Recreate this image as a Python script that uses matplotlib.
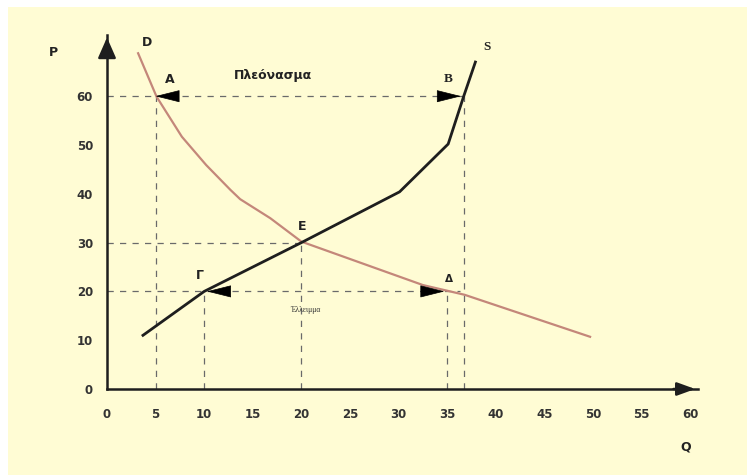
import matplotlib.pyplot as plt
from matplotlib.patches import Rectangle

# demand curve D (brownish) and supply curve S (dark)
demand_q = [3.2, 5.1, 7.7, 10.2, 12.7, 13.7, 16.8, 20, 32.5, 36.8, 49.7]
demand_p = [68.8, 59.9, 51.7, 45.9, 40.8, 38.9, 35, 30.2, 21.3, 19.3, 10.7]
supply_q = [3.7, 10, 20, 30.1, 35.1, 36.7, 37.9]
supply_p = [11, 20, 30, 40.4, 50.2, 60, 67]

# price levels and the matching quantities
p_high, q_a, q_b = 60, 5, 36.7
p_eq, q_eq = 30, 20
p_low, q_g, q_d = 20, 10, 35

ticks_x = list(range(0, 61, 5))
ticks_y = list(range(0, 61, 10))

bg = '#FFFCD4'
ink = '#1e1e1e'
red = '#c4877a'

x_top, y_top = 60.8, 72.6

fig = plt.figure(figsize=(7.47, 4.75), dpi=100)
fig.patch.set_facecolor('white')
fig.patches.append(Rectangle((8 / 747, 0), 1, 1 - 7 / 475, transform=fig.transFigure,
                             facecolor=bg, edgecolor='none', zorder=-10))

ax = fig.add_axes([107 / 747, 86 / 475, x_top * 9.72 / 747, y_top * 4.88 / 475])
ax.set_facecolor('none')
ax.set_xlim(0, x_top)
ax.set_ylim(0, y_top)

for s in ['top', 'right']:
    ax.spines[s].set_visible(False)
for s in ['left', 'bottom']:
    ax.spines[s].set_color(ink)
    ax.spines[s].set_linewidth(1.8)

ax.set_xticks(ticks_x)
ax.set_yticks(ticks_y)
ax.tick_params(length=0, pad=14, labelsize=8.5, colors='#333333')
ax.tick_params(axis='y', pad=10)
for lab in ax.get_xticklabels() + ax.get_yticklabels():
    lab.set_fontweight('bold')

# arrowheads at axis ends
ax.annotate('', xy=(0, y_top), xytext=(0, 68),
            arrowprops=dict(arrowstyle='-|>,head_length=1.25,head_width=0.55', color=ink, lw=1.8),
            annotation_clip=False)
ax.annotate('', xy=(x_top, 0), xytext=(58, 0),
            arrowprops=dict(arrowstyle='-|>,head_length=1.1,head_width=0.4', color=ink, lw=1.8),
            annotation_clip=False)

dash = dict(color='#6a6a6a', lw=0.9, ls=(0, (5, 5)))
ax.plot([0, q_b], [p_high, p_high], **dash)
ax.plot([q_a, q_a], [0, p_high], **dash)
ax.plot([q_b, q_b], [0, p_high], **dash)
ax.plot([0, q_eq], [p_eq, p_eq], **dash)
ax.plot([q_eq, q_eq], [0, p_eq], **dash)
ax.plot([0, 36.3], [p_low, p_low], **dash)
ax.plot([q_g, q_g], [0, p_low], **dash)
ax.plot([q_d, q_d], [0, p_low], **dash)

ax.plot(demand_q, demand_p, color=red, lw=1.6)
ax.plot(supply_q, supply_p, color=ink, lw=2)

# small filled arrows
head = dict(arrowstyle='-|>,head_length=1.6,head_width=0.4', color='black', lw=0.5)
ax.annotate('', xy=(q_a - 0.3, p_high), xytext=(q_a + 2.6, p_high), arrowprops=head)
ax.annotate('', xy=(q_b, p_high), xytext=(q_b - 2.4, p_high), arrowprops=head)
ax.annotate('', xy=(q_g, p_low), xytext=(q_g + 2.6, p_low), arrowprops=head)
ax.annotate('', xy=(q_d, p_low), xytext=(q_d - 2.6, p_low), arrowprops=head)

bold = dict(fontsize=9, fontweight='bold', color='#222222', ha='center', va='center')
ax.text(-5.5, 68.9, 'P', **bold)
ax.text(4.1, 71, 'D', **bold)
ax.text(6.5, 63.5, 'A', **bold)
ax.text(17.1, 64.3, 'Πλεόνασμα', **bold)
ax.text(35.1, 63.5, 'B', **dict(bold, fontsize=9.5, fontfamily='Liberation Serif'))
ax.text(39.1, 70, 'S', **dict(bold, fontsize=9.5, fontfamily='Liberation Serif'))
ax.text(20.1, 33.3, 'E', **bold)
ax.text(9.6, 23.3, 'Γ', **bold)
ax.text(35.2, 22.6, 'Δ', **dict(bold, fontsize=7.5))
ax.text(59.5, -11.8, 'Q', **bold)
ax.text(20.4, 16.2, 'Έλλειμμα', fontsize=5.5, fontfamily='Liberation Serif',
        color='#333333', ha='center', va='center')

fig.savefig('out.png', dpi=100)
